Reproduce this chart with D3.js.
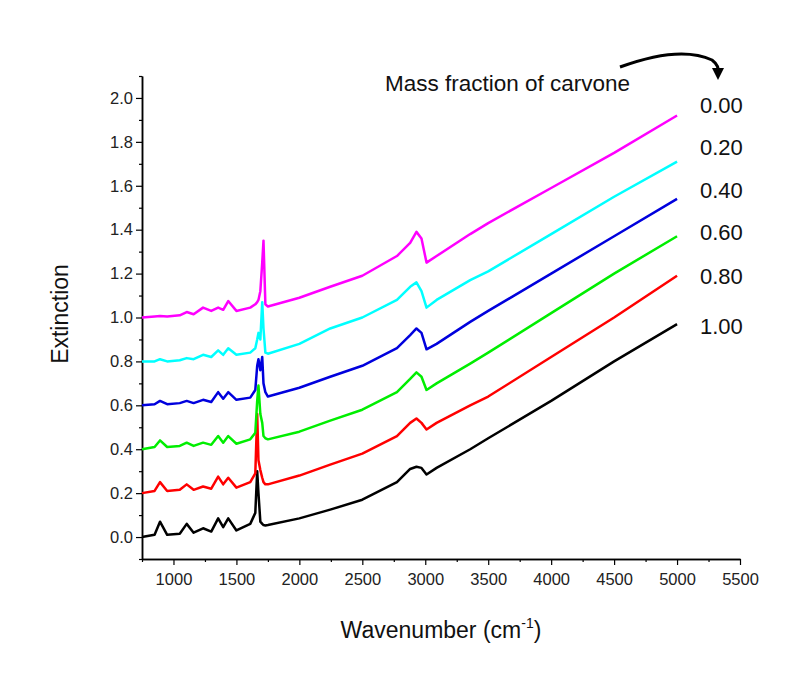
<!DOCTYPE html>
<html><head><meta charset="utf-8">
<script src="https://cdn.jsdelivr.net/npm/d3@7"></script>
<style>body{margin:0;background:#fff}text{font-family:Arial,"Liberation Sans",sans-serif}</style>
</head><body><svg id="c" width="808" height="687"></svg>
<script>
// shared wavenumber grid (cm-1)
const wavenumbers = [750,850,893,950,1050,1105,1160,1235,1300,1355,1395,1435,1500,1610,1650,1665,1675,1690,1705,1715,1730,1750,2000,2245,2500,2775,2880,2930,2970,3010,3090,3357,3500,4000,4500,5000];
const ext100 = [0.00,0.01,0.07,0.01,0.015,0.06,0.02,0.04,0.025,0.085,0.045,0.085,0.03,0.06,0.11,0.30,0.20,0.07,0.06,0.055,0.053,0.055,0.085,0.125,0.17,0.25,0.31,0.32,0.315,0.285,0.315,0.40,0.45,0.62,0.80,0.97];
const ext080 = [0.20,0.21,0.25,0.21,0.215,0.24,0.215,0.23,0.22,0.275,0.24,0.27,0.225,0.25,0.29,0.56,0.35,0.305,0.27,0.25,0.24,0.24,0.28,0.33,0.38,0.46,0.52,0.54,0.52,0.49,0.52,0.60,0.64,0.82,1.00,1.19];
const ext060 = [0.40,0.41,0.44,0.41,0.415,0.43,0.415,0.43,0.42,0.46,0.43,0.46,0.425,0.445,0.475,0.62,0.69,0.56,0.52,0.46,0.45,0.445,0.48,0.53,0.58,0.66,0.72,0.75,0.73,0.67,0.70,0.79,0.84,1.02,1.20,1.37];
const ext040 = [0.60,0.605,0.62,0.605,0.61,0.62,0.61,0.625,0.615,0.66,0.63,0.66,0.625,0.635,0.67,0.78,0.81,0.76,0.82,0.70,0.66,0.64,0.68,0.73,0.78,0.86,0.92,0.95,0.93,0.855,0.88,0.98,1.03,1.20,1.37,1.54];
const ext020 = [0.80,0.80,0.81,0.80,0.805,0.815,0.81,0.83,0.82,0.85,0.83,0.86,0.83,0.84,0.86,0.90,0.93,0.90,1.07,0.95,0.84,0.835,0.88,0.95,1.00,1.08,1.14,1.16,1.12,1.045,1.08,1.17,1.21,1.38,1.55,1.71];
const ext000 = [1.00,1.005,1.007,1.005,1.01,1.025,1.015,1.045,1.03,1.045,1.035,1.075,1.03,1.045,1.06,1.07,1.08,1.12,1.25,1.35,1.06,1.05,1.09,1.14,1.19,1.28,1.34,1.39,1.36,1.25,1.28,1.38,1.43,1.59,1.75,1.92];
const fractions = ["1.00","0.80","0.60","0.40","0.20","0.00"];
const seriesList = [ext100, ext080, ext060, ext040, ext020, ext000];
const colors = ["#000000","#ff0000","#00ee00","#0000dd","#00ffff","#ff00ff"];
const xTicks = [1000,1500,2000,2500,3000,3500,4000,4500,5000,5500];
const yTicks = [0.0,0.2,0.4,0.6,0.8,1.0,1.2,1.4,1.6,1.8,2.0];

const svg = d3.select("#c");
const x = d3.scaleLinear().domain([750,5500]).range([142,740]);
const y = d3.scaleLinear().domain([-0.1,2.1]).range([559,76]);

// axes
const xAxis = svg.append("g").attr("transform","translate(0,559)")
  .call(d3.axisBottom(x).tickValues(xTicks).tickFormat(d3.format("d")).tickSize(6).tickSizeOuter(0));
svg.append("g").attr("transform","translate(0,559)")
  .call(d3.axisBottom(x).tickValues(d3.range(1250,5500,500).concat([750])).tickFormat("").tickSize(3).tickSizeOuter(0));
const yAxis = svg.append("g").attr("transform","translate(142,0)")
  .call(d3.axisLeft(y).tickValues(yTicks).tickFormat(d3.format(".1f")).tickSize(6).tickSizeOuter(0));
svg.append("g").attr("transform","translate(142,0)")
  .call(d3.axisLeft(y).tickValues([-0.1,0.1,0.3,0.5,0.7,0.9,1.1,1.3,1.5,1.7,1.9,2.1]).tickFormat("").tickSize(3).tickSizeOuter(0));
svg.selectAll(".domain").attr("stroke","#000").attr("stroke-width",1.5);
svg.selectAll(".tick line").attr("stroke","#000").attr("stroke-width",1.2);
svg.selectAll(".tick text").attr("font-size",16.5).attr("fill","#222").attr("font-family","Arial,'Liberation Sans',sans-serif");
xAxis.selectAll(".tick text").attr("dy","1.05em");

// spectra
const line = d3.line().x((d,i)=>x(wavenumbers[i])).y(d=>y(d));
seriesList.forEach((s,k)=>{
  svg.append("path").datum(s).attr("d",line).attr("fill","none")
    .attr("stroke",colors[k]).attr("stroke-width",2.5).attr("stroke-linejoin","round");
});

// labels
const labelY = [326,276,232,190,147,105];
fractions.forEach((f,k)=>{
  svg.append("text").attr("x",700).attr("y",labelY[k]).attr("dy","0.35em")
    .attr("font-size",22).attr("fill","#111").text(f);
});
svg.append("text").attr("x",385).attr("y",91).attr("font-size",22.5).attr("fill","#111").text("Mass fraction of carvone");
svg.append("path").attr("d","M620,67 Q680,45 712,60 Q720,66 718,74").attr("fill","none").attr("stroke","#000").attr("stroke-width",3);
svg.append("path").attr("d","M712,68 L724,68 L718,80 Z").attr("fill","#000");

svg.append("text").attr("transform","translate(68,314) rotate(-90)").attr("text-anchor","middle")
  .attr("font-size",23).attr("fill","#111").text("Extinction");
const xt = svg.append("text").attr("x",441).attr("y",638).attr("text-anchor","middle").attr("font-size",23).attr("fill","#111");
xt.append("tspan").text("Wavenumber (cm");
xt.append("tspan").attr("font-size",14).attr("dy",-10).text("-1");
xt.append("tspan").attr("dy",10).text(")");
</script></body></html>
